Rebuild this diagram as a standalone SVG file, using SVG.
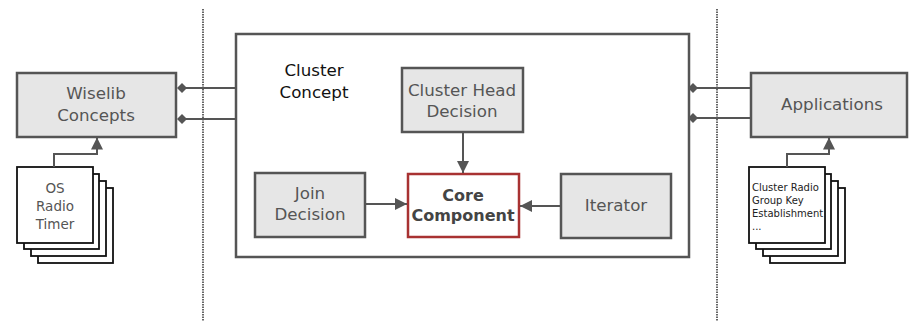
<svg xmlns="http://www.w3.org/2000/svg" width="910" height="326" viewBox="0 0 910 326">
  <style>
    .box { fill: #e6e6e6; stroke: #555; stroke-width: 2.5; }
    .frame { fill: #fff; stroke: #555; stroke-width: 2.5; }
    .core { fill: #fff; stroke: #a83232; stroke-width: 2.5; }
    .doc { fill: #fff; stroke: #111; stroke-width: 1.8; }
    .lbl { font-family: "DejaVu Sans", Verdana, sans-serif; font-size: 16.7px; fill: #555; text-anchor: middle; }
    .dark { fill: #111; }
    .bold { font-weight: bold; font-size: 16px; fill: #444; }
    .small { font-size: 13.5px; }
    .tiny { font-family: "DejaVu Sans", Verdana, sans-serif; font-size: 10px; fill: #222; }
    .conn { fill: none; stroke: #555; stroke-width: 2; }
    .sep { stroke: #666; stroke-width: 2; stroke-dasharray: 1.5 1; }
  </style>
  <defs>
    <marker id="arrow" viewBox="0 0 10 10" refX="10" refY="5" markerWidth="6" markerHeight="6" orient="auto" markerUnits="strokeWidth">
      <path d="M0,0 L10,5 L0,10 Z" fill="#555"/>
    </marker>
    <marker id="diamond" viewBox="0 0 10 10" refX="5" refY="5" markerWidth="5" markerHeight="5" orient="auto" markerUnits="strokeWidth">
      <path d="M0,5 L5,0 L10,5 L5,10 Z" fill="#555"/>
    </marker>
  </defs>

  <!-- layer separators -->
  <line class="sep" x1="203" y1="9" x2="203" y2="321"/>
  <line class="sep" x1="717" y1="9" x2="717" y2="321"/>

  <!-- cluster concept frame -->
  <g id="cluster-concept">
    <rect class="frame" x="236" y="34" width="453" height="223"/>
    <text class="lbl dark" x="314" y="76">Cluster</text>
    <text class="lbl dark" x="314" y="98">Concept</text>
  </g>

  <g id="wiselib-concepts">
    <rect class="box" x="17" y="73" width="159" height="64"/>
    <text class="lbl" x="96" y="99">Wiselib</text>
    <text class="lbl" x="96" y="121">Concepts</text>
  </g>

  <g id="os-radio-timer">
    <rect class="doc" x="38" y="188" width="75" height="75"/>
    <rect class="doc" x="31" y="181" width="75" height="75"/>
    <rect class="doc" x="24" y="174" width="75" height="75"/>
    <rect class="doc" x="17" y="167" width="76" height="76"/>
    <text class="lbl small" x="55" y="193">OS</text>
    <text class="lbl small" x="55" y="211">Radio</text>
    <text class="lbl small" x="55" y="229">Timer</text>
  </g>

  <g id="cluster-head-decision">
    <rect class="box" x="402" y="68" width="121" height="64"/>
    <text class="lbl" x="462" y="96">Cluster Head</text>
    <text class="lbl" x="462" y="117">Decision</text>
  </g>

  <g id="join-decision">
    <rect class="box" x="255" y="173" width="110" height="64"/>
    <text class="lbl" x="310" y="199">Join</text>
    <text class="lbl" x="310" y="220">Decision</text>
  </g>

  <g id="core-component">
    <rect class="core" x="408" y="174" width="111" height="63"/>
    <text class="lbl bold" x="463" y="201">Core</text>
    <text class="lbl bold" x="463" y="221">Component</text>
  </g>

  <g id="iterator">
    <rect class="box" x="561" y="174" width="110" height="64"/>
    <text class="lbl" x="616" y="211">Iterator</text>
  </g>

  <g id="applications">
    <rect class="box" x="751" y="73" width="156" height="64"/>
    <text class="lbl" x="832" y="110">Applications</text>
  </g>

  <g id="cluster-radio-docs">
    <rect class="doc" x="770" y="188" width="75" height="75"/>
    <rect class="doc" x="763" y="181" width="75" height="75"/>
    <rect class="doc" x="756" y="174" width="75" height="75"/>
    <rect class="doc" x="749" y="167" width="76" height="76"/>
    <text class="tiny" x="752" y="191">Cluster Radio</text>
    <text class="tiny" x="752" y="204">Group Key</text>
    <text class="tiny" x="752" y="217">Establishment</text>
    <text class="tiny" x="752" y="230">...</text>
  </g>

  <g id="connectors">
    <path class="conn" d="M54,167 V154 H97 V137.5" marker-end="url(#arrow)"/>
    <path class="conn" d="M787,167 V154 H829 V137.5" marker-end="url(#arrow)"/>
    <path class="conn" d="M463,132 V173" marker-end="url(#arrow)"/>
    <path class="conn" d="M365,204 H407" marker-end="url(#arrow)"/>
    <path class="conn" d="M561,206 H520" marker-end="url(#arrow)"/>
    <path class="conn" d="M236,88 H182" marker-end="url(#diamond)"/>
    <path class="conn" d="M236,119 H182" marker-end="url(#diamond)"/>
    <path class="conn" d="M751,88 H693" marker-end="url(#diamond)"/>
    <path class="conn" d="M751,118 H693" marker-end="url(#diamond)"/>
  </g>
</svg>
